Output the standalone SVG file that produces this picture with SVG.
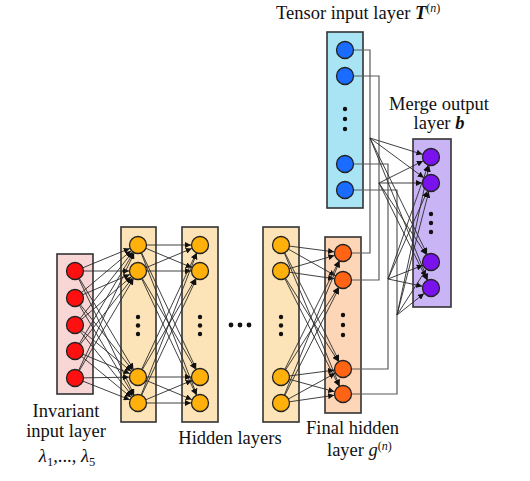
<svg xmlns="http://www.w3.org/2000/svg" width="530" height="481" viewBox="0 0 530 481">
<style>
.box{stroke:#333;stroke-width:1.6}
.n{stroke:#222;stroke-width:1.3}
.e{stroke:#2a2a2a;stroke-width:0.9;fill:none;marker-end:url(#arr)}
.r{stroke:#5a5a5a;stroke-width:1.2;fill:none}
.t{font-family:"Liberation Serif","Times New Roman",serif;font-size:18.5px;fill:#111}
.dot{fill:#111}
</style>
<defs>
<marker id="arr" markerUnits="userSpaceOnUse" markerWidth="16" markerHeight="6" refX="15" refY="3" orient="auto">
<path d="M0,0 L6,3 L0,6 z" fill="#111"/>
</marker>
</defs>
<rect width="530" height="481" fill="#fff"/>
<g id="boxes">
<rect class="box" x="57" y="254" width="36" height="140" fill="#f9d6d6"/>
<rect class="box" x="121" y="227" width="35" height="195" fill="#fde4b8"/>
<rect class="box" x="182" y="227" width="36" height="195" fill="#fde4b8"/>
<rect class="box" x="263" y="227" width="36" height="195" fill="#fde4b8"/>
<rect class="box" x="325" y="237" width="36" height="176" fill="#fcd6b6"/>
<rect class="box" x="327" y="32" width="36" height="176" fill="#a9e4f5"/>
<rect class="box" x="413" y="139" width="38" height="168" fill="#c9b5f5"/>
</g>
<g id="connectors">
<path class="e" d="M75,271L138,245"/><path class="e" d="M75,271L138,271"/><path class="e" d="M75,271L138,377"/><path class="e" d="M75,271L138,403"/>
<path class="e" d="M75,298L138,245"/><path class="e" d="M75,298L138,271"/><path class="e" d="M75,298L138,377"/><path class="e" d="M75,298L138,403"/>
<path class="e" d="M75,325L138,245"/><path class="e" d="M75,325L138,271"/><path class="e" d="M75,325L138,377"/><path class="e" d="M75,325L138,403"/>
<path class="e" d="M75,351L138,245"/><path class="e" d="M75,351L138,271"/><path class="e" d="M75,351L138,377"/><path class="e" d="M75,351L138,403"/>
<path class="e" d="M75,378L138,245"/><path class="e" d="M75,378L138,271"/><path class="e" d="M75,378L138,377"/><path class="e" d="M75,378L138,403"/>
<path class="e" d="M138,245L200,245"/><path class="e" d="M138,245L200,271"/><path class="e" d="M138,245L200,377"/><path class="e" d="M138,245L200,403"/>
<path class="e" d="M138,271L200,245"/><path class="e" d="M138,271L200,271"/><path class="e" d="M138,271L200,377"/><path class="e" d="M138,271L200,403"/>
<path class="e" d="M138,377L200,245"/><path class="e" d="M138,377L200,271"/><path class="e" d="M138,377L200,377"/><path class="e" d="M138,377L200,403"/>
<path class="e" d="M138,403L200,245"/><path class="e" d="M138,403L200,271"/><path class="e" d="M138,403L200,377"/><path class="e" d="M138,403L200,403"/>
<path class="e" d="M281,245L343,253"/><path class="e" d="M281,245L343,280"/><path class="e" d="M281,245L343,369"/><path class="e" d="M281,245L343,394"/>
<path class="e" d="M281,271L343,253"/><path class="e" d="M281,271L343,280"/><path class="e" d="M281,271L343,369"/><path class="e" d="M281,271L343,394"/>
<path class="e" d="M281,377L343,253"/><path class="e" d="M281,377L343,280"/><path class="e" d="M281,377L343,369"/><path class="e" d="M281,377L343,394"/>
<path class="e" d="M281,403L343,253"/><path class="e" d="M281,403L343,280"/><path class="e" d="M281,403L343,369"/><path class="e" d="M281,403L343,394"/>
<path class="r" d="M345,50H370V253H343"/>
<path class="r" d="M345,76H379V280H343"/>
<path class="r" d="M345,164H388V369H343"/>
<path class="r" d="M345,190H397V394H343"/>
<path class="e" d="M370,138L431,157"/><path class="e" d="M370,138L431,183"/><path class="e" d="M370,138L431,262"/><path class="e" d="M370,138L431,288"/>
<path class="e" d="M379,183L431,157"/><path class="e" d="M379,183L431,183"/><path class="e" d="M379,183L431,262"/><path class="e" d="M379,183L431,288"/>
<path class="e" d="M388,279L431,157"/><path class="e" d="M388,279L431,183"/><path class="e" d="M388,279L431,262"/><path class="e" d="M388,279L431,288"/>
<path class="e" d="M397,315L431,157"/><path class="e" d="M397,315L431,183"/><path class="e" d="M397,315L431,262"/><path class="e" d="M397,315L431,288"/>
</g>
<g id="invariant-input-layer" fill="#ff1010">
<circle class="n" cx="75" cy="271" r="8.5"/><circle class="n" cx="75" cy="298" r="8.5"/><circle class="n" cx="75" cy="325" r="8.5"/><circle class="n" cx="75" cy="351" r="8.5"/><circle class="n" cx="75" cy="378" r="8.5"/>
</g>
<g id="hidden-layer-1" fill="#ffb00a">
<circle class="n" cx="138" cy="245" r="8.5"/><circle class="n" cx="138" cy="271" r="8.5"/><circle class="n" cx="138" cy="377" r="8.5"/><circle class="n" cx="138" cy="403" r="8.5"/>
<circle class="dot" cx="138" cy="317" r="2.2"/><circle class="dot" cx="138" cy="325.5" r="2.2"/><circle class="dot" cx="138" cy="334" r="2.2"/>
</g>
<g id="hidden-layer-2" fill="#ffb00a">
<circle class="n" cx="200" cy="245" r="8.5"/><circle class="n" cx="200" cy="271" r="8.5"/><circle class="n" cx="200" cy="377" r="8.5"/><circle class="n" cx="200" cy="403" r="8.5"/>
<circle class="dot" cx="200" cy="317" r="2.2"/><circle class="dot" cx="200" cy="325.5" r="2.2"/><circle class="dot" cx="200" cy="334" r="2.2"/>
</g>
<g id="ellipsis">
<circle class="dot" cx="231" cy="325" r="2.4"/><circle class="dot" cx="240" cy="325" r="2.4"/><circle class="dot" cx="249" cy="325" r="2.4"/>
</g>
<g id="hidden-layer-3" fill="#ffb00a">
<circle class="n" cx="281" cy="245" r="8.5"/><circle class="n" cx="281" cy="271" r="8.5"/><circle class="n" cx="281" cy="377" r="8.5"/><circle class="n" cx="281" cy="403" r="8.5"/>
<circle class="dot" cx="281" cy="317" r="2.2"/><circle class="dot" cx="281" cy="325.5" r="2.2"/><circle class="dot" cx="281" cy="334" r="2.2"/>
</g>
<g id="final-hidden-layer" fill="#ff6414">
<circle class="n" cx="343" cy="253" r="8.5"/><circle class="n" cx="343" cy="280" r="8.5"/><circle class="n" cx="343" cy="369" r="8.5"/><circle class="n" cx="343" cy="394" r="8.5"/>
<circle class="dot" cx="343" cy="315" r="2.2"/><circle class="dot" cx="343" cy="325" r="2.2"/><circle class="dot" cx="343" cy="335" r="2.2"/>
</g>
<g id="tensor-input-layer" fill="#1a6cff">
<circle class="n" cx="345" cy="50" r="8.5"/><circle class="n" cx="345" cy="76" r="8.5"/><circle class="n" cx="345" cy="164" r="8.5"/><circle class="n" cx="345" cy="190" r="8.5"/>
<circle class="dot" cx="345" cy="109" r="2.2"/><circle class="dot" cx="345" cy="119" r="2.2"/><circle class="dot" cx="345" cy="129" r="2.2"/>
</g>
<g id="merge-output-layer" fill="#7a12ee">
<circle class="n" cx="431" cy="157" r="8.5"/><circle class="n" cx="431" cy="183" r="8.5"/><circle class="n" cx="431" cy="262" r="8.5"/><circle class="n" cx="431" cy="288" r="8.5"/>
<circle class="dot" cx="431" cy="214" r="2.2"/><circle class="dot" cx="431" cy="223" r="2.2"/><circle class="dot" cx="431" cy="232" r="2.2"/>
</g>
<g id="labels">
<text class="t" x="276" y="19">Tensor input layer <tspan font-weight="bold" font-style="italic">T</tspan><tspan font-size="12" dy="-7">(<tspan font-style="italic">n</tspan>)</tspan></text>
<text class="t" x="439" y="110" text-anchor="middle">Merge output</text>
<text class="t" x="439" y="129" text-anchor="middle">layer <tspan font-weight="bold" font-style="italic">b</tspan></text>
<text class="t" x="66" y="417" text-anchor="middle">Invariant</text>
<text class="t" x="66" y="437" text-anchor="middle">input layer</text>
<text class="t" x="67" y="462" text-anchor="middle"><tspan font-style="italic">λ</tspan><tspan font-size="12.5" dy="4">1</tspan><tspan dy="-4">,..., </tspan><tspan font-style="italic">λ</tspan><tspan font-size="12.5" dy="4">5</tspan></text>
<text class="t" x="230" y="444" text-anchor="middle">Hidden layers</text>
<text class="t" x="306" y="434">Final hidden</text>
<text class="t" x="327" y="456">layer <tspan font-style="italic">g</tspan><tspan font-size="12" dy="-6">(<tspan font-style="italic">n</tspan>)</tspan></text>
</g>
</svg>
